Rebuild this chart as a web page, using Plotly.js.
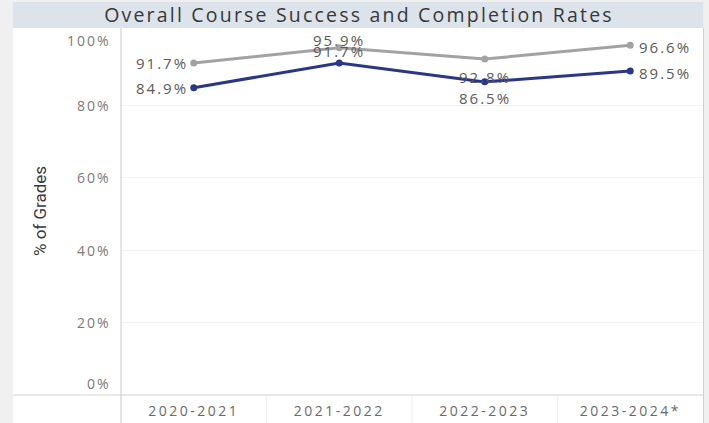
<!DOCTYPE html>
<html>
<head>
<meta charset="utf-8">
<script src="https://cdn.plot.ly/plotly-3.0.1.min.js"></script>
<style>
html,body{margin:0;padding:0;background:#f0f0f0;}
#chart{width:709px;height:423px;}
.annotation-text{letter-spacing:2px;}
#chart .annotation[data-index="0"] text{letter-spacing:0px;}
#chart .xtick text{letter-spacing:2.5px;}
.gtitle{letter-spacing:2.2px;}
</style>
</head>
<body>
<div id="chart"></div>
<script>
const categories = ["2020-2021", "2021-2022", "2022-2023", "2023-2024*"];
const completionRates = [91.7, 95.9, 92.8, 96.6];
const successRates = [84.9, 91.7, 86.5, 89.5];
const yTickValues = [0, 20, 40, 60, 80, 100];
const yTickLabels = ["0%", "20%", "40%", "60%", "80%", "100%"];
const chartTitle = "Overall Course Success and Completion Rates";
const yTitle = "% of Grades";

// label placement styles (offsets in px)
const grayLabelPlacement = [
  {xanchor: "right", xshift: -4, yshift: 0},
  {xanchor: "center", xshift: 0, yshift: 8},
  {xanchor: "center", xshift: 0, yshift: -18},
  {xanchor: "left", xshift: 7, yshift: -2}
];
const blueLabelPlacement = [
  {xanchor: "right", xshift: -4, yshift: 0},
  {xanchor: "center", xshift: 0, yshift: 12},
  {xanchor: "center", xshift: 0, yshift: -16},
  {xanchor: "left", xshift: 7, yshift: -2}
];

const W = 709, H = 423;
const mL = 121, mR = 6, mT = 33, mB = 28;
const pw = W - mL - mR, ph = H - mT - mB;
const px = x => (x - mL) / pw;
const py = y => (H - mB - y) / ph;

const FONT = "Open Sans, Noto Sans, sans-serif";
const fmt = v => v.toFixed(1) + "%";
const GRAY = "#a2a2a2", BLUE = "#2b3786";

const grayTrace = {
  x: categories, y: completionRates, type: "scatter", mode: "lines+markers",
  line: {color: GRAY, width: 3}, marker: {color: GRAY, size: 7},
  cliponaxis: false, hoverinfo: "skip"
};
const blueTrace = {
  x: categories, y: successRates, type: "scatter", mode: "lines+markers",
  line: {color: BLUE, width: 3}, marker: {color: BLUE, size: 7},
  cliponaxis: false, hoverinfo: "skip"
};

const shapes = [
  {type: "rect", xref: "paper", yref: "paper", x0: px(13), x1: px(703.5), y0: py(H + 5), y1: py(2), fillcolor: "#ffffff", line: {width: 0}, layer: "below"},
  {type: "rect", xref: "paper", yref: "paper", x0: px(13), x1: px(703.5), y0: py(28), y1: py(2), fillcolor: "#dde3ea", line: {width: 0}, layer: "below"},
  {type: "line", xref: "paper", yref: "paper", x0: px(121), x1: px(121), y0: py(H + 5), y1: py(28), line: {color: "#d4d4d4", width: 1.2}},
  {type: "line", xref: "paper", yref: "paper", x0: px(13), x1: px(703.5), y0: py(395), y1: py(395), line: {color: "#d4d4d4", width: 1.2}},
  {type: "line", xref: "paper", yref: "paper", x0: px(703.5), x1: px(703.5), y0: py(H + 5), y1: py(28), line: {color: "#d0d0d0", width: 1}}
];
categories.slice(0, -1).forEach((c, i) => {
  shapes.push({type: "line", xref: "x", yref: "paper", x0: i + 0.5, x1: i + 0.5, y0: py(H + 5), y1: py(395), line: {color: "#f0f0f0", width: 1}});
});

const annotations = [];
annotations.push({
  x: px(40), xref: "paper", y: py(211), yref: "paper", textangle: -90,
  text: yTitle, showarrow: false, xanchor: "center", yanchor: "middle",
  font: {family: "Liberation Sans Narrow, Roboto, sans-serif", size: 17, color: "#3a3a3a"}
});
yTickValues.forEach((v, i) => annotations.push({
  x: 0, xref: "paper", xanchor: "right", xshift: -8,
  y: v, yref: "y", yanchor: "middle",
  yshift: i === 0 ? 12 : (i === yTickValues.length - 1 ? -7 : 0),
  text: yTickLabels[i], showarrow: false,
  font: {family: FONT, size: 14, color: "#7a7a7a"}
}));
function addLabels(values, placement) {
  values.forEach((v, i) => annotations.push({
    x: categories[i], xref: "x", y: v, yref: "y",
    text: fmt(v), showarrow: false, yanchor: "middle",
    xanchor: placement[i].xanchor, xshift: placement[i].xshift, yshift: placement[i].yshift,
    font: {family: FONT, size: 15, color: "#5a5a5a"}
  }));
}
addLabels(completionRates, grayLabelPlacement);
addLabels(successRates, blueLabelPlacement);

const layout = {
  width: W, height: H,
  margin: {l: mL, r: mR, t: mT, b: mB},
  paper_bgcolor: "#f0f0f0", plot_bgcolor: "rgba(0,0,0,0)",
  showlegend: false,
  title: {text: chartTitle, x: 359 / W, xref: "container", xanchor: "center", y: 1 - 15.5 / H, yref: "container", yanchor: "middle",
    font: {family: FONT, size: 19.5, color: "#383838"}},
  xaxis: {type: "category", range: [-0.5, 3.5], showgrid: false, zeroline: false, showline: false, ticks: "",
    ticklabelstandoff: 6,
    tickfont: {family: FONT, size: 14, color: "#6a6a6a"}, fixedrange: true},
  yaxis: {range: [0, 100], tickvals: yTickValues, showticklabels: false, showgrid: true, gridcolor: "#f3f3f3", gridwidth: 1,
    zeroline: false, showline: false, ticks: "", fixedrange: true},
  shapes: shapes,
  annotations: annotations
};

Plotly.newPlot("chart", [grayTrace, blueTrace], layout, {displayModeBar: false, staticPlot: true});
</script>
</body>
</html>
